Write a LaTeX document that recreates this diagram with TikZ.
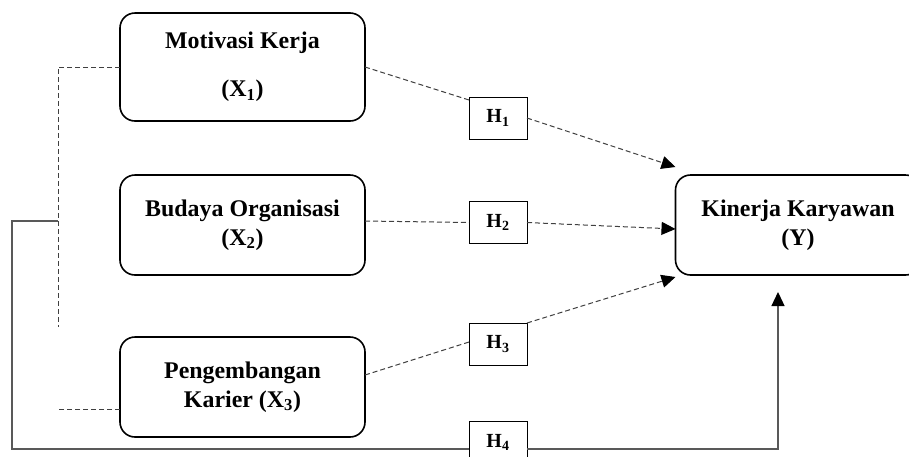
\documentclass[tikz,border=0pt]{standalone}
\usepackage{fontspec}
\setmainfont{Liberation Serif}
\usetikzlibrary{arrows.meta}
\tikzset{
 varbox/.style={draw, line width=1.6pt, rounded corners=15pt, minimum width=245pt, minimum height=100pt, inner sep=0pt, outer sep=0pt, align=center, font=\bfseries\fontsize{23.9}{29}\selectfont},
 hbox/.style={draw, fill=white, line width=1pt, minimum width=58pt, minimum height=42pt, inner sep=0pt, outer sep=0pt, font=\bfseries\fontsize{20}{22}\selectfont},
 dconn/.style={draw=black!75, line width=1pt, dash pattern=on 5pt off 3pt},
 sconn/.style={draw=black!65, line width=1.3pt},
 arrowtip/.style={-{Triangle[length=14pt,width=13pt,black]}}
}
\begin{document}
\begin{tikzpicture}[x=1pt,y=-1pt]
\useasboundingbox (0,0) rectangle (909,456);
\fill[white] (0,0) rectangle (909,456);
\clip (0,0) rectangle (909,456);
% variable boxes
\node[varbox, minimum height=108pt] (X1) at (242.5,67) {Motivasi Kerja\\[19pt](X\textsubscript{1})};
\node[varbox] (X2) at (242.5,225) {Budaya Organisasi\\(X\textsubscript{2})};
\node[varbox] (X3) at (242.5,387) {Pengembangan\\Karier (X\textsubscript{3})};
\node[varbox] (Y) at (798,225) {Kinerja Karyawan\\(Y)};
% hypothesis boxes
\node[hbox] (H1) at (498,118) {H\textsubscript{1}};
\node[hbox] (H2) at (498,222.5) {H\textsubscript{2}};
\node[hbox] (H3) at (498,344) {H\textsubscript{3}};
\node[hbox] (H4) at (498,442) {H\textsubscript{4}};
% helper coordinates
\coordinate (b1) at (58,67);
\coordinate (b2) at (58,327);
\coordinate (b3) at (58,409);
\coordinate (s1) at (58,221);
\coordinate (s2) at (12,221);
\coordinate (s3) at (12,449);
\coordinate (s4) at (778,449);
\coordinate (t4) at (778,292);
% dashed bracket
\draw[dconn] (X1.west) -- (b1) -- (b2);
\draw[dconn] ([yshift=-22pt]X3.west) -- (b3);
% solid H4 path
\draw[sconn] (s1) -- (s2) -- (s3) -- (s3 -| H4.west);
\draw[sconn, arrowtip] (s3 -| H4.east) -- (s4) -- (t4);
% dashed hypotheses
\draw[dconn] (X1.east) -- ([yshift=-3pt]H1.north west);
\draw[dconn, arrowtip] (H1.east) -- ([yshift=8pt]Y.north west);
\draw[dconn] ([yshift=4pt]X2.east) -- (H2.west);
\draw[dconn, arrowtip] (H2.east) -- ([yshift=-4pt]Y.west);
\draw[dconn] ([yshift=12pt]X3.east) -- ([yshift=2pt]H3.west);
\draw[dconn, arrowtip] (H3.north east) -- ([yshift=-2pt]Y.south west);
\end{tikzpicture}
\end{document}
